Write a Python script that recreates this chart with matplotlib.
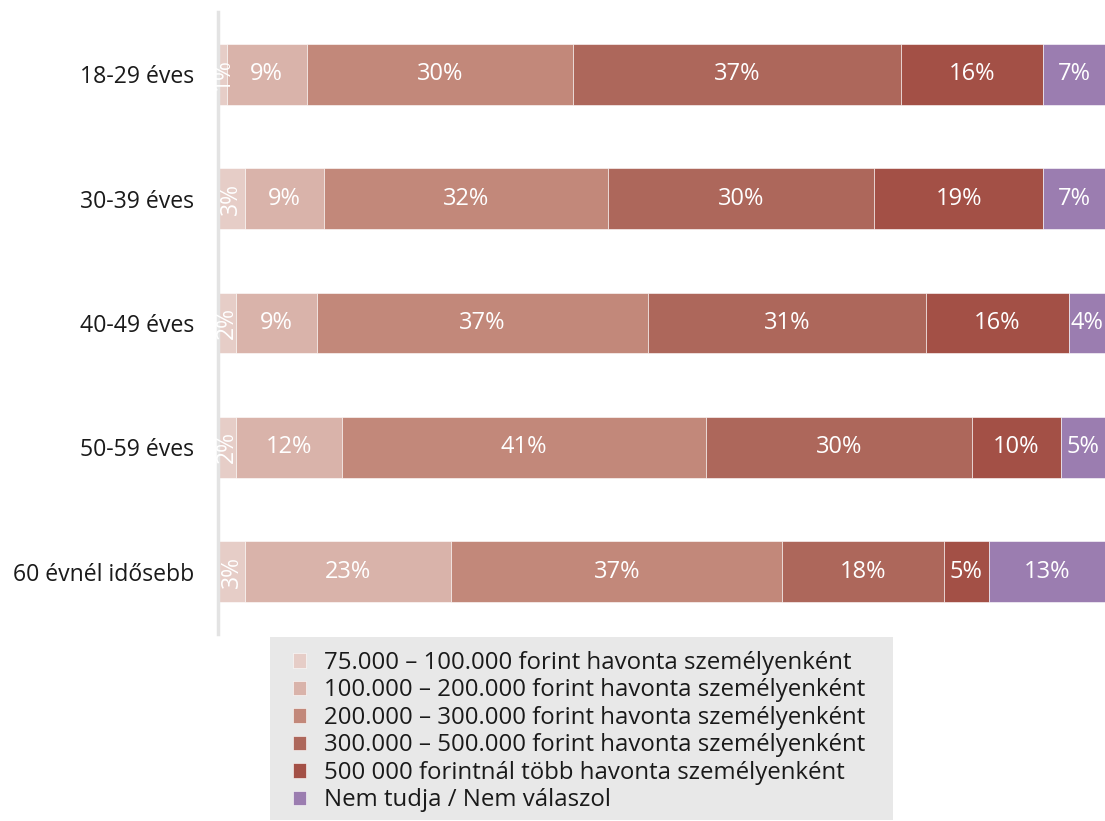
import numpy as np
import matplotlib.pyplot as plt
from matplotlib.patches import Rectangle

plt.rcParams['font.family'] = ['Open Sans', 'DejaVu Sans']

# korcsoportok es a jovedelmi savok aranya (%)
korcsoport = ['18-29 éves', '30-39 éves', '40-49 éves', '50-59 éves', '60 évnél idősebb']
sav_75_100 = [1, 3, 2, 2, 3]
sav_100_200 = [9, 9, 9, 12, 23]
sav_200_300 = [30, 32, 37, 41, 37]
sav_300_500 = [37, 30, 31, 30, 18]
sav_500_felett = [16, 19, 16, 10, 5]
nem_tudja = [7, 7, 4, 5, 13]

savok = ['75.000 – 100.000 forint havonta személyenként',
         '100.000 – 200.000 forint havonta személyenként',
         '200.000 – 300.000 forint havonta személyenként',
         '300.000 – 500.000 forint havonta személyenként',
         '500 000 forintnál több havonta személyenként',
         'Nem tudja / Nem válaszol']
szinek = ['#e6cdc7', '#d9b3aa', '#c2887a', '#ad675b', '#a35046', '#9b7db0']

adat = np.array([sav_75_100, sav_100_200, sav_200_300, sav_300_500, sav_500_felett, nem_tudja], dtype=float)
# minden sor 100%-ra kiegeszitve
osszeg = adat.sum(axis=0)
szeles = adat / osszeg * 100

fig = plt.figure(figsize=(11.05, 8.21), dpi=100)
ax = fig.add_axes([218/1105, 1 - 634/821, 887/1105, 622/821])

y = np.arange(len(korcsoport))
bal = np.zeros(len(korcsoport))
for i in range(len(savok)):
    ax.barh(y, szeles[i], left=bal, height=0.49, color=szinek[i], label=savok[i],
            edgecolor='white', linewidth=0.4)
    for j in range(len(korcsoport)):
        cx = bal[j] + szeles[i][j] / 2
        if adat[i][j] <= 3:
            ax.text(cx, y[j], f'{int(adat[i][j])}%', ha='center', va='center',
                    rotation=90, color='white', fontsize=16.5)
        else:
            ax.text(cx, y[j], f'{int(adat[i][j])}%', ha='center', va='center',
                    color='white', fontsize=17)
    bal += szeles[i]

ax.set_xlim(0, 100)
ax.set_ylim(len(korcsoport) - 0.5, -0.5)
ax.set_yticks(y)
ax.set_yticklabels(korcsoport, fontsize=16.6, color='#1a1a1a')
ax.set_xticks([])
ax.tick_params(axis='y', length=0, pad=17)
for s in ['top', 'right', 'bottom']:
    ax.spines[s].set_visible(False)
ax.spines['left'].set_color('#e3e3e3')
ax.spines['left'].set_linewidth(2.5)

# szurke hatter a jelmagyarazat mogott
fig.patches.append(Rectangle((270/1105, 1 - 820/821), 623/1105, 183/821,
                             transform=fig.transFigure, facecolor='#e8e8e8',
                             edgecolor='none', zorder=0))
leg = fig.legend(loc='upper left', bbox_to_anchor=(293/1105, 1 - 651/821), frameon=False,
                 fontsize=17.3, handlelength=0.55, handleheight=0.55, handletextpad=0.75,
                 labelspacing=0.145, borderpad=0, borderaxespad=0,
                 labelcolor='#1a1a1a')

fig.savefig('out.png', dpi=100)
